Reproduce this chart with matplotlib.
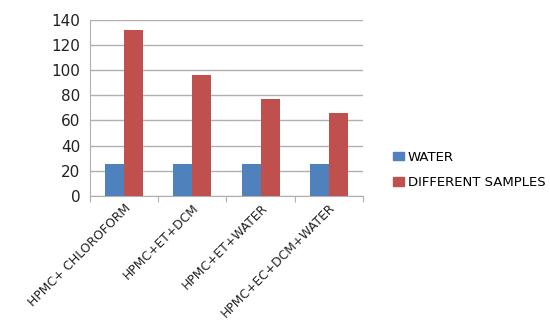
import numpy as np
import matplotlib
matplotlib.use("Agg")
import matplotlib.pyplot as plt
from matplotlib.patches import Patch

categories = ["HPMC+ CHLOROFORM", "HPMC+ET+DCM", "HPMC+ET+WATER", "HPMC+EC+DCM+WATER"]
water = [25, 25, 25, 25]
samples = [132, 96, 77, 66]
yticks = [0, 20, 40, 60, 80, 100, 120, 140]

BLUE = "#4F81BD"
RED = "#C0504D"
GRID = "#B0B0B0"

plt.rcParams["font.family"] = ["DejaVu Sans"]

fig = plt.figure(figsize=(5.5, 3.22), dpi=100)
ax = fig.add_axes([90 / 550, 1 - 196 / 322, 273 / 550, 176.5 / 322])

x = np.arange(len(categories))
w = 0.28
ax.bar(x - w / 2, water, w, color=BLUE, zorder=3)
ax.bar(x + w / 2, samples, w, color=RED, zorder=3)

ax.set_xlim(-0.5, len(categories) - 0.5)
ax.set_ylim(0, 140)
ax.set_yticks(yticks)
ax.tick_params(axis="y", length=0, labelsize=11, colors="#222222", pad=7)
ax.yaxis.grid(True, color=GRID, linewidth=1, zorder=0)

# category boundaries get the tick marks, labels sit under the groups
ax.set_xticks(np.arange(len(categories) + 1) - 0.5)
ax.set_xticklabels([])
ax.tick_params(axis="x", which="major", length=4, color=GRID, direction="out")
ax.set_xticks(x, minor=True)
ax.set_xticklabels(categories, minor=True, rotation=45, ha="right",
                   rotation_mode="anchor", fontsize=8.9, color="#222222")
ax.tick_params(axis="x", which="minor", length=0, pad=4)

for s in ["top", "right"]:
    ax.spines[s].set_visible(False)
ax.spines["left"].set_color(GRID)
ax.spines["bottom"].set_color(GRID)

handles = [Patch(color=BLUE, label="WATER"), Patch(color=RED, label="DIFFERENT SAMPLES")]
fig.legend(handles=handles, loc="center left", bbox_to_anchor=(381 / 550, 1 - 170 / 322),
           frameon=False, fontsize=9.5, handlelength=0.85, handleheight=0.6,
           handletextpad=0.3, labelspacing=0.95)

fig.savefig("out.png", dpi=100)
